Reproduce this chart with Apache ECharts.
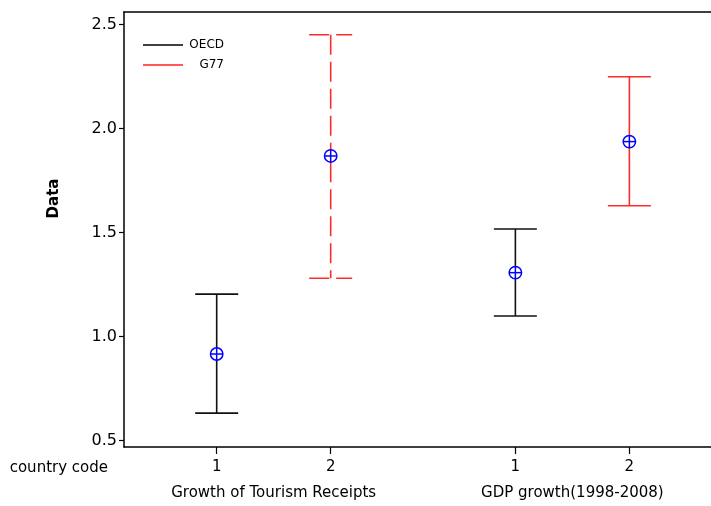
<!DOCTYPE html>
<html>
<head>
<meta charset="utf-8">
<script src="https://cdn.jsdelivr.net/npm/echarts@6/dist/echarts.min.js"></script>
<style>html,body{margin:0;padding:0;background:#fff}#chart{width:711px;height:506px}</style>
</head>
<body>
<div id="chart"></div>
<script>
// ---- data ----
var groups = ['Growth of Tourism Receipts', 'GDP growth(1998-2008)'];
var countryCodes = ['1', '2'];
var seriesNames = ['OECD', 'G77'];
// per series: one value per group
var oecdMean  = [0.916, 1.307];
var oecdLower = [0.632, 1.099];
var oecdUpper = [1.204, 1.517];
var g77Mean   = [1.868, 1.937];
var g77Lower  = [1.280, 1.629];
var g77Upper  = [2.451, 2.249];
var yTicks = [0.5, 1.0, 1.5, 2.0, 2.5];

// ---- layout helpers ----
var GROUP_STEP = 2.62; // axis units between the starts of the two groups
function xOf(groupIdx, codeIdx) { return 1 + groupIdx * GROUP_STEP + codeIdx; }

var tickPos = [], tickLab = [], groupPos = [];
groups.forEach(function (g, gi) {
  countryCodes.forEach(function (c, ci) { tickPos.push(xOf(gi, ci)); tickLab.push(c); });
  groupPos.push((xOf(gi, 0) + xOf(gi, countryCodes.length - 1)) / 2);
});

function buildData(codeIdx, mean, lower, upper) {
  return groups.map(function (g, gi) { return [xOf(gi, codeIdx), mean[gi], lower[gi], upper[gi]]; });
}

function makeRender(color, dash) {
  return function (params, api) {
    var x = api.value(0);
    var pm = api.coord([x, api.value(1)]);
    var pl = api.coord([x, api.value(2)]);
    var pu = api.coord([x, api.value(3)]);
    var half = 21.5, r = 6.2;
    var ls = { stroke: color, lineWidth: 1.6, lineDash: dash };
    var blue = { stroke: '#0000ff', lineWidth: 1.5, fill: null };
    return {
      type: 'group',
      children: [
        { type: 'line', shape: { x1: pm[0], y1: pu[1], x2: pm[0], y2: pm[1] - r }, style: ls },
        { type: 'line', shape: { x1: pm[0], y1: pm[1] + r, x2: pm[0], y2: pl[1] }, style: ls },
        { type: 'line', shape: { x1: pu[0] - half, y1: pu[1], x2: pu[0] + half, y2: pu[1] }, style: ls },
        { type: 'line', shape: { x1: pl[0] - half, y1: pl[1], x2: pl[0] + half, y2: pl[1] }, style: ls },
        { type: 'circle', shape: { cx: pm[0], cy: pm[1], r: r }, style: blue },
        { type: 'line', shape: { x1: pm[0] - r, y1: pm[1], x2: pm[0] + r, y2: pm[1] }, style: blue },
        { type: 'line', shape: { x1: pm[0], y1: pm[1] - r, x2: pm[0], y2: pm[1] + r }, style: blue }
      ]
    };
  };
}

var FONT = 'DejaVu Sans';
var chart = echarts.init(document.getElementById('chart'), null, { renderer: 'canvas' });
chart.setOption({
  animation: false,
  backgroundColor: '#fff',
  textStyle: { fontFamily: FONT },
  grid: { left: 124, right: 0, top: 12, bottom: 59 },
  legend: {
    left: 143, top: 39, padding: 0, orient: 'vertical', itemWidth: 40, itemHeight: 1.5, itemGap: 8,
    icon: 'rect', data: seriesNames,
    formatter: function (name) { return '{a|' + name + '}'; },
    textStyle: {
      fontFamily: FONT, fontSize: 12, color: '#000',
      rich: { a: { fontFamily: FONT, fontSize: 12, color: '#000', width: 36, align: 'right' } }
    }
  },
  xAxis: [
    {
      type: 'value', min: 0.187, max: 5.336, position: 'bottom',
      name: 'country code', nameLocation: 'start', nameGap: 16,
      nameTextStyle: { fontFamily: FONT, fontSize: 15, color: '#000', verticalAlign: 'top', padding: [14, 0, 0, 0] },
      splitLine: { show: false },
      axisLine: { show: true, onZero: false, lineStyle: { color: '#000', width: 1.5 } },
      axisTick: { show: true, length: 7, customValues: tickPos, lineStyle: { color: '#000', width: 1.2 } },
      axisLabel: {
        customValues: tickPos, margin: 13, fontFamily: FONT, fontSize: 15, color: '#000',
        formatter: function (v) { var i = tickPos.findIndex(function (p) { return Math.abs(p - v) < 1e-6; }); return i >= 0 ? tickLab[i] : ''; }
      }
    },
    {
      type: 'value', min: 0.187, max: 5.336, position: 'bottom', offset: 27,
      splitLine: { show: false }, axisLine: { show: false }, axisTick: { show: false },
      axisLabel: {
        customValues: groupPos, margin: 12, fontFamily: FONT, fontSize: 15, color: '#000',
        formatter: function (v) { var i = groupPos.findIndex(function (p) { return Math.abs(p - v) < 1e-6; }); return i >= 0 ? groups[i] : ''; }
      }
    },
    {
      type: 'value', min: 0.187, max: 5.336, position: 'top',
      splitLine: { show: false }, axisTick: { show: false }, axisLabel: { show: false },
      axisLine: { show: true, onZero: false, lineStyle: { color: '#000', width: 1.5 } }
    }
  ],
  yAxis: {
    type: 'value', min: 0.469, max: 2.56,
    name: 'Data', nameLocation: 'middle', nameGap: 62,
    nameTextStyle: { fontFamily: FONT, fontSize: 15, fontWeight: 'bold', color: '#000', padding: [0, 0, 0, 62] },
    splitLine: { show: false },
    axisLine: { show: true, onZero: false, lineStyle: { color: '#000', width: 1.5 } },
    axisTick: { show: true, length: 5, customValues: yTicks, lineStyle: { color: '#000', width: 1.2 } },
    axisLabel: { customValues: yTicks, margin: 7, fontFamily: FONT, fontSize: 16, color: '#000', formatter: function (v) { return v.toFixed(1); } }
  },
  series: [
    {
      name: seriesNames[0], type: 'custom', xAxisIndex: 0, itemStyle: { color: '#000' },
      renderItem: makeRender('#111', null), encode: { x: 0, y: [1, 2, 3] },
      data: buildData(0, oecdMean, oecdLower, oecdUpper)
    },
    {
      name: seriesNames[1], type: 'custom', xAxisIndex: 0, itemStyle: { color: '#ff2020' },
      renderItem: function (params, api) {
        var dash = params.dataIndex === 0 ? [20, 7] : null;
        return makeRender('#ff2a2a', dash)(params, api);
      },
      encode: { x: 0, y: [1, 2, 3] },
      data: buildData(1, g77Mean, g77Lower, g77Upper)
    }
  ]
});
</script>
</body>
</html>
